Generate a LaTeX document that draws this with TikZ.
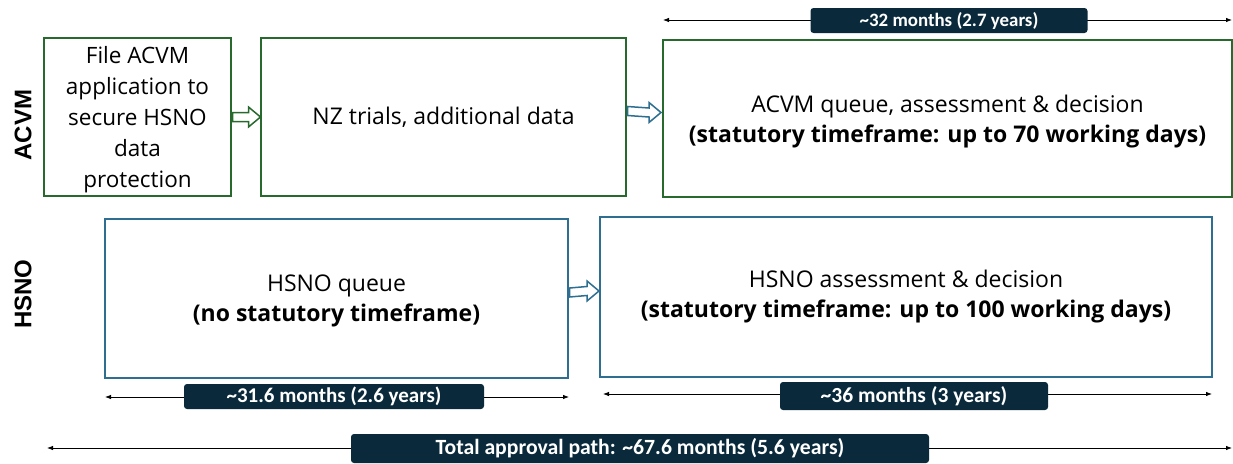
\documentclass[tikz,border=0pt]{standalone}
\usepackage{fontspec}
\setmainfont{Open Sans}
\newfontfamily\labelfont{Carlito}
\newfontfamily\rowfont{Liberation Sans}
\usetikzlibrary{calc,arrows.meta}
\definecolor{accgreen}{RGB}{40,105,45}
\definecolor{hsblue}{RGB}{45,110,145}
\definecolor{navy}{RGB}{10,42,60}
\tikzset{
  stagebox/.style={line width=1.8pt, inner sep=0pt, outer sep=0pt, anchor=north west, align=center,
     font=\fontsize{23}{30}\selectfont},
  gbox/.style={stagebox, draw=accgreen},
  bbox/.style={stagebox, draw=hsblue},
  fatarr/.style={draw=#1, fill=white, line width=1.5pt, line join=miter},
  dimline/.style={line width=0.8pt, {Latex[length=6pt,width=4.5pt]}-{Latex[length=6pt,width=4.5pt]}},
  lbl/.style={fill=navy, text=white, rounded corners=3pt, inner sep=0pt,
     font=\labelfont\bfseries\fontsize{#1}{20}\selectfont},
  rowlbl/.style={rotate=90, font=\rowfont\bfseries\fontsize{24}{26}\selectfont}
}
% block arrow from coordinate #2 (tail) to coordinate #3 (tip), colour #1
\newcommand\blockarrow[3]{%
  \draw[fatarr=#1] ($(#2)+(1.5,-4.5)$) -- ($(#3)+(-12,-4.5)$) -- ($(#3)+(-12,-10)$) -- (#3)
    -- ($(#3)+(-12,10)$) -- ($(#3)+(-12,4.5)$) -- ($(#2)+(1.5,4.5)$) -- cycle;}
\begin{document}
\begin{tikzpicture}[x=1pt,y=-1pt]
\useasboundingbox (0,0) rectangle (1233,463);
% row labels
\node[rowlbl] (racvm) at (23,125) {ACVM};
\node[rowlbl] (rhsno) at (23,294) {HSNO};
% ACVM boxes
\node[gbox, minimum width=187pt, minimum height=158pt, font=\fontsize{22.5}{31}\selectfont, text depth=0pt] (b1) at (44,38)
  {File ACVM\\application to\\secure HSNO\\data\\protection};
\node[gbox, minimum width=365pt, minimum height=158pt] (b2) at (261,38) {NZ trials, additional data};
\node[gbox, minimum width=569pt, minimum height=157pt, text depth=0pt] (b3) at (663,40)
  {ACVM queue, assessment \& decision\\\textbf{(statutory timeframe: up to 70 working days)}};
% HSNO boxes
\node[bbox, minimum width=463pt, minimum height=159pt, text depth=0pt] (b4) at (105,219)
  {HSNO queue\\\textbf{(no statutory timeframe)}};
\node[bbox, minimum width=612pt, minimum height=160pt] (b5) at (600,217)
  {HSNO assessment \& decision\\\textbf{(statutory timeframe: up to 100 working days)}};
% block arrows
\coordinate (a1s) at ([yshift=0pt]b1.east);  \coordinate (a1e) at ([xshift=-0.5pt]b2.west);
\coordinate (a2s) at ([yshift=6pt]b2.east);  \coordinate (a2e) at ([xshift=-2pt,yshift=6pt]b3.west);
\coordinate (a3s) at ([yshift=6pt]b4.east);  \coordinate (a3e) at ([xshift=-1pt,yshift=6pt]b5.west);
\blockarrow{accgreen}{a1s}{a1e}
\blockarrow{hsblue}{a2s}{a2e}
\blockarrow{hsblue}{a3s}{a3e}
% dimension lines
\coordinate (t1) at (663,20); \coordinate (t2) at (1232,20);
\draw[dimline] (t1) -- (t2);
\node[lbl=18.9, minimum width=277pt, minimum height=25pt] (l1) at (949,20.5) {\textasciitilde32 months (2.7 years)};
\coordinate (h1) at (105,397); \coordinate (h2) at (569,397);
\draw[dimline] (h1) -- (h2);
\node[lbl=21, minimum width=300pt, minimum height=25pt] (l2) at (334,396.5) {\textasciitilde31.6 months (2.6 years)};
\coordinate (s1) at (603,394); \coordinate (s2) at (1212,394);
\draw[dimline] (s1) -- (s2);
\node[lbl=21.5, minimum width=268pt, minimum height=28pt] (l3) at (914,396) {\textasciitilde36 months (3 years)};
\coordinate (g1) at (47,448); \coordinate (g2) at (1232,448);
\draw[dimline] (g1) -- (g2);
\node[lbl=21.7, minimum width=578pt, minimum height=29pt] (l4) at (640,448.5) {Total approval path: \textasciitilde67.6 months (5.6 years)};
\end{tikzpicture}
\end{document}
